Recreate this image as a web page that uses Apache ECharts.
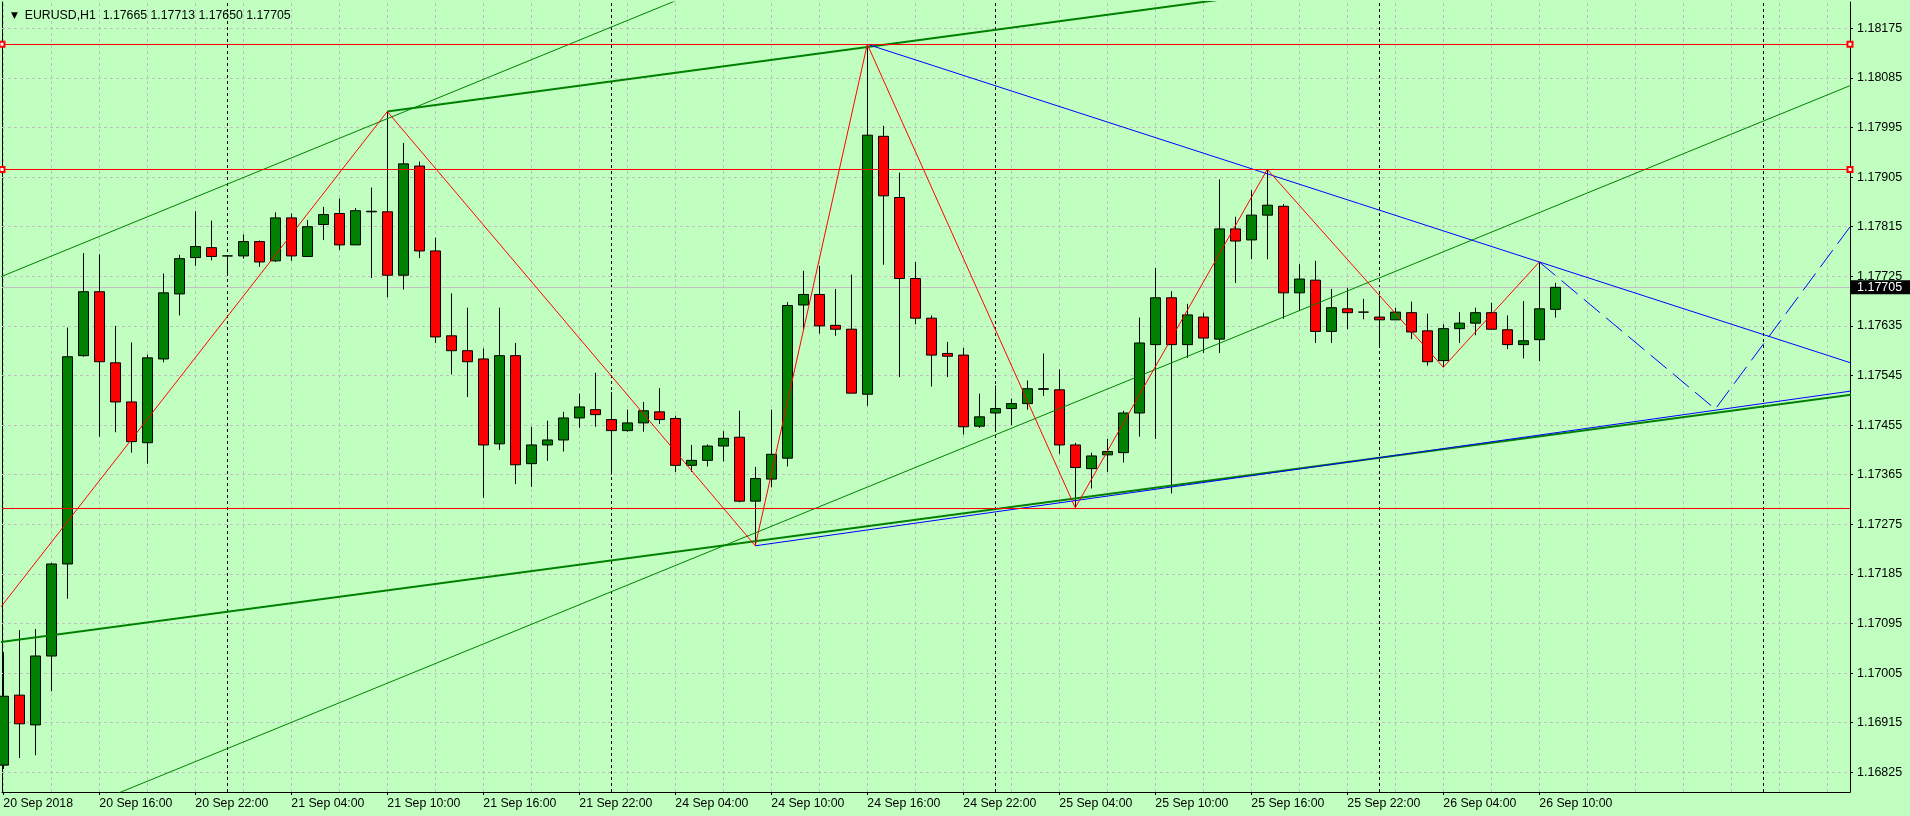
<!DOCTYPE html>
<html><head><meta charset="utf-8">
<script src="https://cdn.jsdelivr.net/npm/echarts@6/dist/echarts.min.js"></script>
<style>html,body{margin:0;padding:0;background:#C0FFC0;overflow:hidden}#c{width:1910px;height:816px}</style>
</head><body><div id="c"></div>
<script>
// ---------------- DATA ----------------
const symbolName = 'EURUSD', timeframe = 'H1';
// hourly bars from 20 Sep 2018 10:00 to 26 Sep 2018 11:00 (index 0..97)
const opens  = [1.16838,1.16965,1.16911,1.17036,1.17203,1.17581,1.17697,1.17568,1.17497,1.17423,
                1.17575,1.17693,1.17759,1.17777,1.17762,1.17762,1.17788,1.17753,1.17831,1.17761,
                1.17819,1.17839,1.17782,1.17842,1.17842,1.17727,1.17925,1.17771,1.17617,1.17590,
                1.17575,1.17421,1.17581,1.17385,1.17419,1.17428,1.17468,1.17483,1.17465,1.17445,
                1.17459,1.17479,1.17467,1.17382,1.17391,1.17417,1.17433,1.17317,1.17357,1.17395,
                1.17673,1.17692,1.17636,1.17629,1.17511,1.17979,1.17868,1.17721,1.17649,1.17585,
                1.17582,1.17453,1.17477,1.17485,1.17494,1.17521,1.17519,1.17419,1.17376,1.17401,
                1.17405,1.17477,1.17601,1.17686,1.17601,1.17651,1.17611,1.17811,1.17791,1.17836,
                1.17852,1.17695,1.17718,1.17625,1.17666,1.17660,1.17651,1.17646,1.17659,1.17626,
                1.17572,1.17630,1.17640,1.17659,1.17628,1.17601,1.17610,1.17665];
const highs  = [1.17043,1.17083,1.17085,1.17205,1.17632,1.17767,1.17765,1.17635,1.17605,1.17583,
                1.17730,1.17764,1.17843,1.17826,1.17763,1.17801,1.17790,1.17841,1.17839,1.17827,
                1.17851,1.17866,1.17849,1.17886,1.18024,1.17967,1.17933,1.17795,1.17694,1.17668,
                1.17594,1.17668,1.17604,1.17452,1.17463,1.17479,1.17512,1.17550,1.17515,1.17483,
                1.17497,1.17522,1.17472,1.17419,1.17420,1.17444,1.17481,1.17379,1.17483,1.17678,
                1.17735,1.17744,1.17702,1.17728,1.18146,1.17998,1.17913,1.17751,1.17654,1.17606,
                1.17595,1.17512,1.17527,1.17503,1.17536,1.17585,1.17556,1.17423,1.17405,1.17430,
                1.17481,1.17650,1.17740,1.17698,1.17675,1.17659,1.17901,1.17833,1.17881,1.17919,
                1.17856,1.17747,1.17753,1.17702,1.17704,1.17684,1.17692,1.17668,1.17679,1.17657,
                1.17638,1.17660,1.17668,1.17677,1.17654,1.17680,1.17751,1.17713];
const lows   = [1.16831,1.16851,1.16856,1.16972,1.17140,1.17579,1.17434,1.17442,1.17405,1.17385,
                1.17569,1.17654,1.17744,1.17754,1.17728,1.17757,1.17742,1.17751,1.17753,1.17761,
                1.17791,1.17773,1.17782,1.17722,1.17687,1.17701,1.17758,1.17604,1.17547,1.17506,
                1.17323,1.17410,1.17348,1.17343,1.17390,1.17407,1.17450,1.17452,1.17365,1.17443,
                1.17443,1.17457,1.17370,1.17370,1.17380,1.17389,1.17315,1.17236,1.17342,1.17380,
                1.17628,1.17621,1.17617,1.17513,1.17490,1.17746,1.17542,1.17638,1.17525,1.17542,
                1.17438,1.17450,1.17446,1.17455,1.17483,1.17508,1.17403,1.17305,1.17340,1.17370,
                1.17387,1.17434,1.17430,1.17331,1.17577,1.17586,1.17586,1.17713,1.17756,1.17756,
                1.17648,1.17662,1.17604,1.17604,1.17629,1.17647,1.17598,1.17646,1.17611,1.17563,
                1.17560,1.17604,1.17618,1.17628,1.17593,1.17576,1.17571,1.17650];
const closes = [1.16963,1.16913,1.17036,1.17203,1.17579,1.17697,1.17570,1.17497,1.17425,1.17577,
                1.17695,1.17757,1.17779,1.17761,1.17762,1.17788,1.17751,1.17831,1.17762,1.17815,
                1.17837,1.17782,1.17844,1.17843,1.17727,1.17929,1.17771,1.17615,1.17590,1.17570,
                1.17419,1.17581,1.17383,1.17419,1.17428,1.17468,1.17488,1.17474,1.17445,1.17459,
                1.17481,1.17465,1.17382,1.17391,1.17417,1.17431,1.17317,1.17358,1.17402,1.17672,
                1.17692,1.17635,1.17629,1.17513,1.17981,1.17871,1.17721,1.17649,1.17582,1.17580,
                1.17452,1.17470,1.17485,1.17494,1.17521,1.17520,1.17419,1.17378,1.17399,1.17407,
                1.17477,1.17604,1.17686,1.17601,1.17655,1.17613,1.17811,1.17789,1.17836,1.17854,
                1.17695,1.17720,1.17625,1.17668,1.17659,1.17660,1.17646,1.17660,1.17624,1.17570,
                1.17630,1.17640,1.17659,1.17629,1.17601,1.17608,1.17666,1.17705];

// axis ticks / labels
const xTickIdx = [0,6,12,18,24,30,36,42,48,54,60,66,72,78,84,90,96];
const xTickLabels = ['20 Sep 2018','20 Sep 16:00','20 Sep 22:00','21 Sep 04:00','21 Sep 10:00',
  '21 Sep 16:00','21 Sep 22:00','24 Sep 04:00','24 Sep 10:00','24 Sep 16:00','24 Sep 22:00',
  '25 Sep 04:00','25 Sep 10:00','25 Sep 16:00','25 Sep 22:00','26 Sep 04:00','26 Sep 10:00'];
const xGridIdx = [0,3,6,9,12,15,18,21,24,27,30,33,36,39,42,45,48,51,54,57,60,63,66,69,72,75,78,81,84,87,90,93,96,99,102,105,108,111,114];
const yTicks = [1.16825,1.16915,1.17005,1.17095,1.17185,1.17275,1.17365,1.17455,1.17545,1.17635,
                1.17725,1.17815,1.17905,1.17995,1.18085,1.18175];
const daySeparators = [14,38,62,86,110];

// drawn objects: [bar index, price]
const zigzag = [[-3,1.17019],[24,1.18024],[47,1.17236],[54,1.18146],[67,1.17305],[79,1.17919],[90,1.17560],[96,1.17751]];
const levelsMarked = [1.18146, 1.17919];
const levelsPlain = [1.17305];
const greenChannelTop = [[24,1.18024],[54,1.18141]];
const greenChannelBottom = [[0,1.17062],[100,1.17450]];
const thinChannelTop = [[0,1.17726],[24,1.18011]];
const thinChannelBottom = [[43,1.17212],[93,1.17805]];
const blueTop = [[54,1.18146],[96,1.17751]];
const blueBottom = [[47,1.17236],[67,1.17318]];
const blueProjection = [[96,1.17751],[107,1.17484],[118,1.17916]];

// ---------------- CHART ----------------
const XMIN = -0.081, XMAX = 115.419, YMIN = 1.1678925, YMAX = 1.1822272;
const FONT = 'Liberation Sans';
const n = opens.length;
const candleData = opens.map((o,i)=>[i, o, closes[i], lows[i], highs[i]]);
const lastClose = closes[n-1];

function lineAt(a,b,x){ return a[1] + (b[1]-a[1])*(x-a[0])/(b[0]-a[0]); }
function ray(pts){ const a=pts[0], b=pts[1]; return [a, [XMAX+3, lineAt(a,b,XMAX+3)]]; }
function fullLine(pts){ const a=pts[0], b=pts[1]; return [[XMIN-40, lineAt(a,b,XMIN-40)], [XMAX+40, lineAt(a,b,XMAX+40)]]; }
function lineSeries(name, data, color, width, type, z){
  return {type:'line', name, data, symbol:'none', silent:true, z:z||4, clip:true,
    lineStyle:{color, width, type:type||'solid'}, animation:false};
}
function markSeries(name, z, items, lineStyle, extra){
  return {type:'line', name, data:[], silent:true, z:z,
    markLine:Object.assign({z:z, silent:true, symbol:'none', animation:false, precision:8,
      label:{show:false}, lineStyle, data:items}, extra||{})};
}

const chart = echarts.init(document.getElementById('c'), null, {renderer:'canvas'});
const f5 = v => v.toFixed(5);
chart.setOption({
  animation:false,
  backgroundColor:'#C0FFC0',
  title:{
    left:6, top:5,
    text:'{t|▼}  ' + symbolName + ',' + timeframe + '  ' + [opens[n-1],highs[n-1],lows[n-1],closes[n-1]].map(f5).join(' '),
    textStyle:{fontFamily:FONT, fontSize:12.3, fontWeight:'normal', color:'#000',
      rich:{t:{fontSize:9, fontFamily:'DejaVu Sans', color:'#000'}}}
  },
  grid:{left:2, right:60, top:2, bottom:24, containLabel:false},
  xAxis:[{
    type:'value', min:XMIN, max:XMAX, position:'bottom',
    axisLine:{show:true, onZero:false, lineStyle:{color:'#000', width:1}},
    axisTick:{show:true, inside:false, length:3, customValues:xTickIdx, lineStyle:{color:'#000'}},
    axisLabel:{show:true, customValues:xTickIdx, align:'left', margin:6,
      fontFamily:FONT, fontSize:12.3, color:'#000',
      formatter:v => xTickLabels[xTickIdx.indexOf(Math.round(v))] || ''},
    splitLine:{show:false}
  }],
  yAxis:[{
    type:'value', min:YMIN, max:YMAX, position:'right', scale:true,
    axisLine:{show:true, onZero:false, lineStyle:{color:'#000', width:1}},
    axisTick:{show:true, inside:false, length:3, customValues:yTicks, lineStyle:{color:'#000'}},
    axisLabel:{show:true, customValues:yTicks, margin:7, fontFamily:FONT, fontSize:12.5, color:'#000',
      formatter:f5},
    splitLine:{show:false}
  },{
    type:'value', min:YMIN, max:YMAX, position:'left', scale:true,
    axisLine:{show:true, onZero:false, lineStyle:{color:'#000', width:1}},
    axisTick:{show:false}, axisLabel:{show:false}, splitLine:{show:false}
  }],
  series:[
    markSeries('grid', 1,
      [...yTicks.map(v=>({yAxis:v})), ...xGridIdx.map(v=>({xAxis:v}))],
      {color:'#C0C0C0', width:1, type:[3,3]}),
    markSeries('separators', 1, daySeparators.map(v=>({xAxis:v})),
      {color:'#000', width:1, type:[3,3]}),
    markSeries('bid', 1, [{yAxis:lastClose}],
      {color:'#C0C0C0', width:1, type:'solid'},
      {label:{show:true, position:'end', distance:1, formatter:()=>f5(lastClose),
        color:'#fff', backgroundColor:'#000', padding:[1,8,0,6], lineHeight:13,
        fontFamily:FONT, fontSize:12.5}}),
    {
      type:'candlestick', name:'EURUSD', data:candleData, z:2, silent:true, clip:true,
      encode:{x:0, y:[1,2,3,4]}, barWidth:10,
      itemStyle:{color:'#008000', color0:'#FF0000', borderColor:'#000', borderColor0:'#000',
        borderColorDoji:'#000', borderWidth:1}
    },
    lineSeries('thinTop', fullLine(thinChannelTop), '#008000', 1),
    lineSeries('thinBottom', fullLine(thinChannelBottom), '#008000', 1),
    lineSeries('greenTop', ray(greenChannelTop), '#008000', 2),
    lineSeries('greenBottom', fullLine(greenChannelBottom), '#008000', 2),
    lineSeries('blueTop', ray(blueTop), '#0000FF', 1),
    lineSeries('blueBottom', ray(blueBottom), '#0000FF', 1),
    lineSeries('blueProjection', blueProjection, '#0000FF', 1, [21,8]),
    lineSeries('zigzag', zigzag, '#FF0000', 1),
    markSeries('levelsMarked', 5, levelsMarked.map(v=>({yAxis:v})),
      {color:'#FF0000', width:1, type:'solid'},
      {symbol:['emptyRect','emptyRect'], symbolSize:5}),
    markSeries('levelsPlain', 5, levelsPlain.map(v=>({yAxis:v})),
      {color:'#FF0000', width:1, type:'solid'})
  ]
});
</script></body></html>
